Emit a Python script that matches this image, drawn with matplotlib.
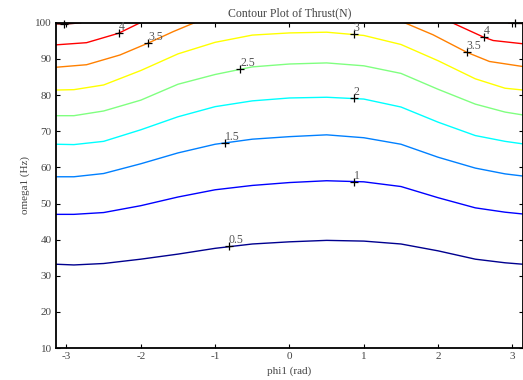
import matplotlib
matplotlib.use("Agg")
import matplotlib.pyplot as plt
import numpy as np


# values
phi_grid = [-3.14, -2.9, -2.5, -2.0, -1.5, -1.0, -0.5, 0.0, 0.5, 1.0, 1.5, 2.0, 2.5, 2.9, 3.14]

omega_05 = [33.2, 33.0, 33.4, 34.6, 36.0, 37.6, 38.8, 39.4, 39.8, 39.6, 38.8, 36.9, 34.6, 33.6, 33.2]
omega_10 = [47.0, 47.0, 47.5, 49.4, 51.8, 53.8, 55.0, 55.8, 56.3, 56.0, 54.7, 51.6, 48.8, 47.6, 47.1]
omega_15 = [57.4, 57.4, 58.3, 61.0, 64.0, 66.4, 67.8, 68.5, 69.0, 68.2, 66.4, 62.8, 59.8, 58.2, 57.6]
omega_20 = [66.4, 66.3, 67.2, 70.4, 74.0, 76.8, 78.4, 79.2, 79.4, 78.9, 76.7, 72.5, 68.8, 67.2, 66.5]
omega_25 = [74.3, 74.3, 75.6, 78.6, 83.0, 85.7, 87.8, 88.6, 88.9, 88.1, 86.0, 81.6, 77.5, 75.3, 74.5]
omega_30 = [81.4, 81.5, 82.8, 86.8, 91.4, 94.6, 96.6, 97.2, 97.4, 96.5, 94.0, 89.5, 84.5, 81.9, 81.4]

# levels that leave through the top edge: (left piece, right piece)
phi_35 = ([-3.14, -2.73, -2.28, -1.9, -1.56, -1.28], [1.55, 1.93, 2.39, 2.69, 3.14])
omega_35 = ([87.7, 88.4, 91.1, 94.4, 97.6, 100.0], [100.0, 96.7, 91.8, 89.3, 87.9])
phi_40 = ([-3.14, -2.73, -2.30, -2.01], [2.19, 2.615, 2.74, 3.14])
omega_40 = ([93.9, 94.5, 97.1, 100.0], [100.0, 96.0, 95.1, 94.2])
phi_45 = ([-3.14, -3.03, -2.81], [2.95, 3.04, 3.14])
omega_45 = ([99.7, 99.6, 100.0], [100.0, 99.9, 99.8])

levels = [0.5, 1, 1.5, 2, 2.5, 3, 3.5, 4, 4.5]
level_colors = ['#00008f', '#0000ff', '#0080ff', '#00ffff', '#80ff80',
                '#ffff00', '#ff8000', '#ff0000', '#800000']

# clabel '+' marks and their text
label_phi = [-0.82, 0.866, -0.866, 0.866, -0.664, 0.866, -1.90, 2.387, -2.298, 2.615, -3.027, 3.036]
label_omega = [38.2, 56.05, 66.85, 79.1, 87.2, 96.9, 94.4, 91.8, 97.1, 96.0, 99.6, 99.9]
label_text = ['0.5', '1', '1.5', '2', '2.5', '3', '3.5', '3.5', '4', '4', '', '']

xticks = [-3, -2, -1, 0, 1, 2, 3]
xtick_labels = ['-3', '-2', '-1', '0', '1', '2', '3']
yticks = [10, 20, 30, 40, 50, 60, 70, 80, 90, 100]


def draw_contours(ax):
    '''draws every contour line in its jet colour'''
    full = [omega_05, omega_10, omega_15, omega_20, omega_25, omega_30]
    for i, ys in enumerate(full):
        ax.plot(phi_grid, ys, color=level_colors[i], lw=1.0)
    split = [(phi_35, omega_35), (phi_40, omega_40), (phi_45, omega_45)]
    for j, (xs, ys) in enumerate(split):
        for px, py in zip(xs, ys):
            ax.plot(px, py, color=level_colors[6 + j], lw=1.0)


def draw_labels(ax):
    ax.plot(label_phi, label_omega, ls='none', marker='+', color='black',
            markersize=6, mew=0.9, clip_on=False, zorder=5)
    for x, y, t in zip(label_phi, label_omega, label_text):
        if t:
            ax.annotate(t, (x, y), xytext=(0, 0), textcoords='offset points',
                        ha='left', va='bottom', fontsize=8.5, color='#555555',
                        family='Liberation Serif')


def main():
    plt.rcParams['font.family'] = 'Liberation Serif'
    fig = plt.figure(figsize=(5.23, 3.80), dpi=100)
    ax = fig.add_axes([0.107, 0.084, 0.893, 0.856])

    draw_contours(ax)
    draw_labels(ax)

    ax.set_xlim(-np.pi, np.pi)
    ax.set_ylim(10, 100)
    ax.set_xticks(xticks)
    ax.set_yticks(yticks)
    ax.set_xticklabels(xtick_labels)
    ax.tick_params(direction='in', top=True, right=True, length=3, width=0.8,
                   labelsize=8, labelcolor='#444444', pad=3)
    for s in ax.spines.values():
        s.set_linewidth(1.3)

    ax.set_title('Contour Plot of Thrust(N)', fontsize=8.5, color='#444444', pad=5)
    ax.set_xlabel('phi1 (rad)', fontsize=8, color='#444444', labelpad=4)
    ax.set_ylabel('omega1 (Hz)', fontsize=8, color='#444444', labelpad=4)

    plt.savefig('out.png', dpi=100)


if __name__ == "__main__":
    main()
